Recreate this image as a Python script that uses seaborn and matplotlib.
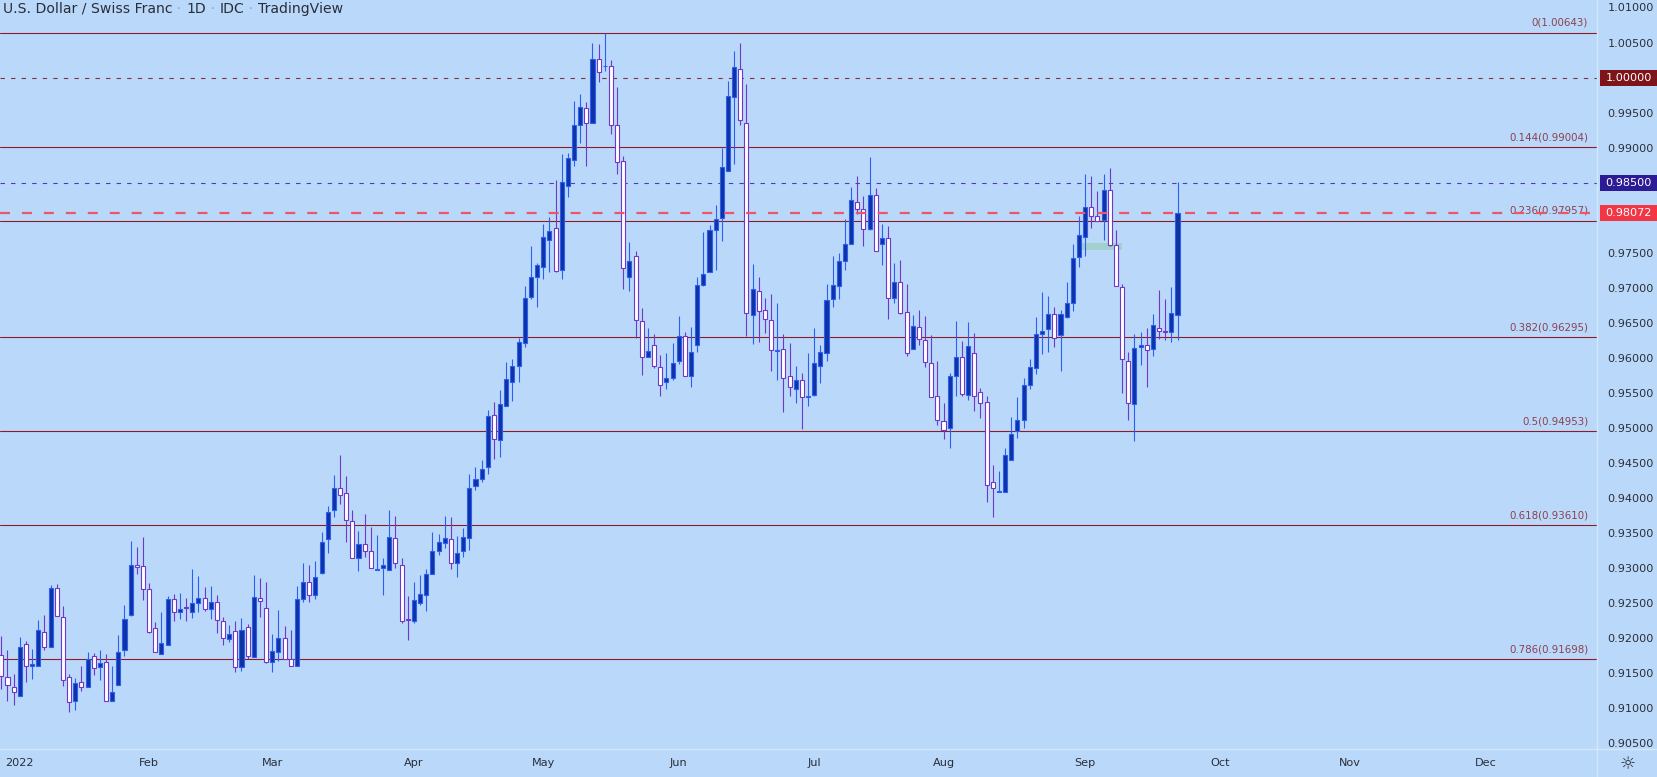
import numpy as np
import pandas as pd
import matplotlib
matplotlib.use("Agg")
import matplotlib.pyplot as plt
import matplotlib.transforms as mtransforms
from matplotlib.patches import Rectangle
from matplotlib.lines import Line2D
import seaborn as sns

# USD/CHF daily candles, 29 Dec 2021 -> 22 Sep 2022
opens = [
    0.9176, 0.9145, 0.9131, 0.9118, 0.9192, 0.9160, 0.9160, 0.9209, 0.9188, 0.9272, 0.9230, 0.9144, 0.9111,
    0.9138, 0.9131, 0.9174, 0.9159, 0.9166, 0.9110, 0.9133, 0.9183, 0.9233, 0.9304, 0.9303,
    0.9270, 0.9214, 0.9178, 0.9191, 0.9256, 0.9237, 0.9244, 0.9238, 0.9250, 0.9258,
    0.9241, 0.9251, 0.9224, 0.9199, 0.9210, 0.9159, 0.9216, 0.9173, 0.9258, 0.9243,
    0.9166, 0.9180, 0.9200, 0.9171, 0.9161, 0.9256, 0.9280, 0.9261, 0.9293, 0.9341,
    0.9383, 0.9414, 0.9407, 0.9367, 0.9315, 0.9335, 0.9324, 0.9298, 0.9300, 0.9298,
    0.9343, 0.9305, 0.9227, 0.9224, 0.9250, 0.9261, 0.9291, 0.9324, 0.9336, 0.9341,
    0.9307, 0.9324, 0.9343, 0.9417, 0.9427, 0.9444, 0.9518, 0.9483, 0.9532, 0.9566,
    0.9589, 0.9621, 0.9687, 0.9715, 0.9729, 0.9768, 0.9785, 0.9725, 0.9845, 0.9882,
    0.9933, 0.9956, 0.9935, 1.0027, 1.0016, 1.0016, 0.9932, 0.9881, 0.9715, 0.9745,
    0.9652, 0.9601, 0.9619, 0.9587, 0.9565, 0.9572, 0.9595, 0.9631, 0.9574, 0.9619,
    0.9704, 0.9722, 0.9782, 0.9799, 0.9866, 0.9972, 1.0012, 0.9935, 0.9661, 0.9695,
    0.9669, 0.9654, 0.9610, 0.9612, 0.9574, 0.9555, 0.9569, 0.9544, 0.9547, 0.9588,
    0.9607, 0.9684, 0.9702, 0.9738, 0.9762, 0.9822, 0.9813, 0.9784, 0.9832, 0.9762,
    0.9771, 0.9686, 0.9709, 0.9665, 0.9612, 0.9644, 0.9625, 0.9592, 0.9545, 0.9510,
    0.9500, 0.9574, 0.9601, 0.9547, 0.9607, 0.9551, 0.9537, 0.9423, 0.9409, 0.9408,
    0.9455, 0.9495, 0.9512, 0.9561, 0.9585, 0.9634, 0.9641, 0.9662, 0.9632, 0.9658,
    0.9679, 0.9744, 0.9772, 0.9815, 0.9802, 0.9797, 0.9839, 0.9761, 0.9701, 0.9595,
    0.9534, 0.9615, 0.9619, 0.9612, 0.9642, 0.9639, 0.9637, 0.9661,
]
highs = [
    0.9203, 0.9183, 0.9149, 0.9202, 0.9196, 0.9185, 0.9226, 0.9233, 0.9276, 0.9278, 0.9246, 0.9149, 0.9143,
    0.9160, 0.9180, 0.9179, 0.9183, 0.9178, 0.9160, 0.9205, 0.9247, 0.9339, 0.9330, 0.9344,
    0.9279, 0.9223, 0.9237, 0.9260, 0.9263, 0.9265, 0.9257, 0.9299, 0.9289, 0.9273,
    0.9275, 0.9262, 0.9230, 0.9219, 0.9225, 0.9229, 0.9220, 0.9290, 0.9286, 0.9280,
    0.9206, 0.9240, 0.9217, 0.9212, 0.9275, 0.9307, 0.9305, 0.9310, 0.9352, 0.9389,
    0.9433, 0.9461, 0.9432, 0.9383, 0.9353, 0.9377, 0.9359, 0.9347, 0.9314, 0.9383,
    0.9374, 0.9315, 0.9260, 0.9280, 0.9290, 0.9299, 0.9352, 0.9349, 0.9374, 0.9373,
    0.9346, 0.9357, 0.9434, 0.9444, 0.9454, 0.9526, 0.9537, 0.9554, 0.9594, 0.9599,
    0.9628, 0.9703, 0.9760, 0.9736, 0.9791, 0.9801, 0.9854, 0.9891, 0.9892, 0.9967,
    0.9977, 0.9965, 1.0050, 1.0048, 1.0064, 1.0025, 0.9987, 0.9888, 0.9765, 0.9753,
    0.9671, 0.9642, 0.9634, 0.9604, 0.9607, 0.9621, 0.9660, 0.9637, 0.9644, 0.9716,
    0.9780, 0.9790, 0.9818, 0.9900, 0.9995, 1.0038, 1.0050, 0.9991, 0.9734, 0.9716,
    0.9685, 0.9691, 0.9679, 0.9634, 0.9621, 0.9588, 0.9578, 0.9607, 0.9643, 0.9618,
    0.9706, 0.9745, 0.9750, 0.9798, 0.9844, 0.9860, 0.9831, 0.9887, 0.9842, 0.9791,
    0.9788, 0.9736, 0.9740, 0.9706, 0.9661, 0.9668, 0.9660, 0.9633, 0.9596, 0.9535,
    0.9578, 0.9652, 0.9624, 0.9651, 0.9635, 0.9557, 0.9545, 0.9447, 0.9438, 0.9472,
    0.9515, 0.9544, 0.9572, 0.9599, 0.9659, 0.9694, 0.9688, 0.9672, 0.9669, 0.9708,
    0.9762, 0.9802, 0.9862, 0.9859, 0.9838, 0.9862, 0.9871, 0.9782, 0.9705, 0.9609,
    0.9634, 0.9637, 0.9643, 0.9663, 0.9697, 0.9684, 0.9701, 0.9851,
]
lows = [
    0.9128, 0.9110, 0.9104, 0.9117, 0.9138, 0.9142, 0.9160, 0.9183, 0.9187, 0.9231, 0.9132, 0.9094, 0.9097,
    0.9124, 0.9131, 0.9147, 0.9140, 0.9110, 0.9110, 0.9133, 0.9174, 0.9232, 0.9292, 0.9254,
    0.9207, 0.9180, 0.9178, 0.9191, 0.9224, 0.9228, 0.9224, 0.9229, 0.9238, 0.9239,
    0.9227, 0.9208, 0.9191, 0.9194, 0.9152, 0.9153, 0.9170, 0.9173, 0.9230, 0.9165,
    0.9152, 0.9168, 0.9171, 0.9161, 0.9161, 0.9251, 0.9252, 0.9256, 0.9292, 0.9322,
    0.9373, 0.9392, 0.9338, 0.9315, 0.9296, 0.9316, 0.9300, 0.9298, 0.9262, 0.9298,
    0.9300, 0.9222, 0.9197, 0.9222, 0.9247, 0.9239, 0.9291, 0.9319, 0.9329, 0.9299,
    0.9288, 0.9316, 0.9326, 0.9412, 0.9423, 0.9435, 0.9456, 0.9459, 0.9531, 0.9538,
    0.9566, 0.9616, 0.9684, 0.9673, 0.9712, 0.9722, 0.9723, 0.9712, 0.9829, 0.9874,
    0.9907, 0.9874, 0.9935, 0.9994, 1.0010, 0.9920, 0.9862, 0.9699, 0.9696, 0.9629,
    0.9576, 0.9601, 0.9585, 0.9546, 0.9556, 0.9569, 0.9591, 0.9574, 0.9559, 0.9608,
    0.9703, 0.9722, 0.9726, 0.9767, 0.9866, 0.9876, 0.9933, 0.9631, 0.9620, 0.9623,
    0.9635, 0.9582, 0.9568, 0.9523, 0.9545, 0.9535, 0.9498, 0.9532, 0.9546, 0.9564,
    0.9595, 0.9673, 0.9684, 0.9725, 0.9762, 0.9806, 0.9759, 0.9783, 0.9752, 0.9733,
    0.9656, 0.9678, 0.9663, 0.9602, 0.9612, 0.9618, 0.9587, 0.9544, 0.9504, 0.9484,
    0.9472, 0.9545, 0.9546, 0.9540, 0.9524, 0.9514, 0.9395, 0.9373, 0.9409, 0.9408,
    0.9455, 0.9485, 0.9500, 0.9555, 0.9577, 0.9605, 0.9609, 0.9615, 0.9581, 0.9657,
    0.9667, 0.9729, 0.9746, 0.9786, 0.9795, 0.9768, 0.9760, 0.9702, 0.9550, 0.9511,
    0.9482, 0.9590, 0.9558, 0.9602, 0.9627, 0.9625, 0.9622, 0.9625,
]
closes = [
    0.9146, 0.9133, 0.9123, 0.9188, 0.9160, 0.9163, 0.9212, 0.9188, 0.9272, 0.9231, 0.9141, 0.9109, 0.9136,
    0.9131, 0.9171, 0.9157, 0.9164, 0.9110, 0.9123, 0.9180, 0.9228, 0.9305, 0.9301, 0.9270,
    0.9209, 0.9180, 0.9193, 0.9256, 0.9237, 0.9241, 0.9243, 0.9250, 0.9257, 0.9241,
    0.9251, 0.9226, 0.9200, 0.9206, 0.9159, 0.9212, 0.9175, 0.9259, 0.9253, 0.9166,
    0.9182, 0.9201, 0.9171, 0.9161, 0.9256, 0.9280, 0.9262, 0.9288, 0.9337, 0.9380,
    0.9414, 0.9404, 0.9368, 0.9315, 0.9334, 0.9324, 0.9300, 0.9299, 0.9305, 0.9344,
    0.9307, 0.9224, 0.9226, 0.9254, 0.9263, 0.9291, 0.9325, 0.9337, 0.9343, 0.9307,
    0.9321, 0.9344, 0.9414, 0.9427, 0.9442, 0.9517, 0.9484, 0.9534, 0.9570, 0.9589,
    0.9622, 0.9685, 0.9715, 0.9732, 0.9772, 0.9781, 0.9724, 0.9851, 0.9885, 0.9933,
    0.9958, 0.9935, 1.0027, 1.0008, 1.0017, 0.9932, 0.9879, 0.9728, 0.9738, 0.9654,
    0.9601, 0.9610, 0.9588, 0.9562, 0.9571, 0.9592, 0.9631, 0.9574, 0.9608, 0.9704,
    0.9719, 0.9782, 0.9798, 0.9873, 0.9973, 1.0015, 0.9939, 0.9664, 0.9698, 0.9667,
    0.9655, 0.9611, 0.9611, 0.9571, 0.9559, 0.9569, 0.9544, 0.9545, 0.9592, 0.9609,
    0.9682, 0.9704, 0.9738, 0.9762, 0.9825, 0.9813, 0.9784, 0.9832, 0.9752, 0.9771,
    0.9686, 0.9709, 0.9664, 0.9607, 0.9645, 0.9627, 0.9594, 0.9544, 0.9512, 0.9497,
    0.9574, 0.9601, 0.9548, 0.9617, 0.9545, 0.9535, 0.9418, 0.9414, 0.9410, 0.9462,
    0.9491, 0.9512, 0.9562, 0.9587, 0.9634, 0.9639, 0.9662, 0.9629, 0.9662, 0.9678,
    0.9742, 0.9775, 0.9815, 0.9803, 0.9795, 0.9839, 0.9761, 0.9702, 0.9598, 0.9535,
    0.9614, 0.9618, 0.9611, 0.9647, 0.9639, 0.9637, 0.9664, 0.98072,
]

fib_ratios = [0, 0.144, 0.236, 0.382, 0.5, 0.618, 0.786]
fib_prices = [1.00643, 0.99004, 0.97957, 0.96295, 0.94953, 0.93610, 0.91698]

parity_level = 1.00000
resistance_level = 0.98500
last_price = 0.98072

# shaded box drawn in early September (bar positions / prices)
gap_x = (175.2, 182.0)
gap_y = (0.9754, 0.9764)

month_labels = ["2022", "Feb", "Mar", "Apr", "May", "Jun", "Jul", "Aug", "Sep", "Oct", "Nov", "Dec"]

BG = "#BAD9FA"
UP_FILL, UP_EDGE = "#1033A3", "#2B5EF5"
DN_FILL, DN_EDGE = "#FFFFFF", "#7037C8"
FIB_COLOR = "#8E1C26"
FIB_TEXT = "#8C4150"
TEXT = "#2A2E39"

dates = pd.bdate_range("2021-12-29", periods=len(opens))
df = pd.DataFrame({"date": dates, "open": opens, "high": highs, "low": lows, "close": closes})
df["pos"] = np.arange(len(df))
df["up"] = df["close"] >= df["open"]

# TradingView keeps spacing per trading day, also into the future months
calendar = pd.bdate_range("2021-12-29", "2022-12-30")
month_pos = [int(np.argmax((calendar.year == 2022) & (calendar.month == m))) for m in range(1, 13)]

sns.set_theme(style="white", rc={"axes.facecolor": BG, "figure.facecolor": BG})
plt.rcParams["font.family"] = ["DejaVu Sans"]
plt.rcParams["lines.scale_dashes"] = False

W, H = 1658, 777
fig = plt.figure(figsize=(W / 100, H / 100), dpi=100)
ax = fig.add_axes([0, 29 / H, 1597 / W, 748 / H])
ax.set_facecolor(BG)

# fib retracement levels
for r, p in zip(fib_ratios, fib_prices):
    ax.axhline(p, color=FIB_COLOR, lw=0.8, zorder=1)

blend = mtransforms.blended_transform_factory(ax.transAxes, ax.transData)
for r, p in zip(fib_ratios, fib_prices):
    ax.annotate(f"{r:g}({p:.5f})", xy=(0.9945, p), xycoords=blend, xytext=(0, 10),
                textcoords="offset pixels", ha="right", va="center",
                fontsize=7.4, color=FIB_TEXT, zorder=2)

ax.axhline(parity_level, color="#7D3443", lw=0.8, ls=(0, (3.2, 4.4)), zorder=1)
ax.axhline(resistance_level, color="#4B3BBF", lw=0.8, ls=(0, (3.2, 4.4)), zorder=1)

ax.add_patch(Rectangle((gap_x[0], gap_y[0]), gap_x[1] - gap_x[0], gap_y[1] - gap_y[0],
                       facecolor="#A2D0CF", edgecolor="none", zorder=1.5))

# candles
for up, d in df.groupby("up"):
    fill, edge = (UP_FILL, UP_EDGE) if up else (DN_FILL, DN_EDGE)
    ax.vlines(d["pos"], d["low"], d["high"], colors=edge, lw=0.8, zorder=3)
    lo = np.minimum(d["open"], d["close"]).to_numpy()
    h = np.abs(d["close"] - d["open"]).to_numpy()
    thin = h < 0.00012
    lo = np.where(thin, lo + h / 2 - 0.00006, lo)
    h = np.where(thin, 0.00012, h)
    ax.bar(d["pos"], h, bottom=lo, width=0.66, color=fill, edgecolor=edge, linewidth=0.8, zorder=4)

ax.axhline(last_price, color="#F05467", lw=1.6, ls=(0, (7.2, 8.6)), zorder=5)

ax.set_xlim(-0.215, 259.12)
ax.set_ylim(0.904334, 1.011068)

# right price scale (labels hidden behind the price tags are left out)
ax.yaxis.tick_right()
yt = [round(v, 3) for v in np.arange(0.905, 1.0101, 0.005)]
yt = [v for v in yt if v not in (0.98, resistance_level, parity_level)]
ax.set_yticks(yt)
ax.set_yticklabels([f"{v:.5f}" for v in yt])
ax.tick_params(axis="y", length=0, pad=7.5, labelsize=8.1, labelcolor=TEXT)

ax.set_xticks(month_pos)
ax.set_xticklabels(month_labels)
ax.tick_params(axis="x", length=0, pad=7.5, labelsize=8.1, labelcolor=TEXT)
for s in ax.spines.values():
    s.set_visible(False)
ax.grid(False)

# price tags on the scale
tag_tf = mtransforms.blended_transform_factory(ax.transAxes, ax.transData)
for val, col in [(parity_level, "#7E1419"), (resistance_level, "#2D1B96"), (last_price, "#F23645")]:
    ax.add_patch(Rectangle((1600 / 1597, val - 0.00114), 57 / 1597, 0.00228, transform=tag_tf,
                           facecolor=col, edgecolor="none", clip_on=False, zorder=10))
    ax.text(1628.5 / 1597, val, f"{val:.5f}", transform=tag_tf, ha="center", va="center",
            fontsize=8.1, color="white", clip_on=False, zorder=11)

# panel separators
fig.add_artist(Line2D([1597.5 / W] * 2, [0, 1], color="#D3E7FB", lw=1))
fig.add_artist(Line2D([0, 1], [1 - 748.5 / H] * 2, color="#D3E7FB", lw=1))
fig.text(1628 / W, 1 - 764 / H, "\u263C", ha="center", va="center", fontsize=13, color=TEXT)

# title, separators in a paler tone
parts = [("U.S. Dollar / Swiss Franc", TEXT), (" \u00b7 ", "#8DA8C8"), ("1D", TEXT), (" \u00b7 ", "#8DA8C8"),
         ("IDC", TEXT), (" \u00b7 ", "#8DA8C8"), ("TradingView", TEXT)]
prev = fig.text(3 / W, 1 - 2 / H, parts[0][0], ha="left", va="top", fontsize=10.1, color=parts[0][1])
for txt, col in parts[1:]:
    prev = ax.annotate(txt, xy=(1, 0), xycoords=prev, ha="left", va="bottom",
                       fontsize=10.1, color=col, annotation_clip=False)

fig.savefig("out.png", dpi=100, facecolor=BG)
